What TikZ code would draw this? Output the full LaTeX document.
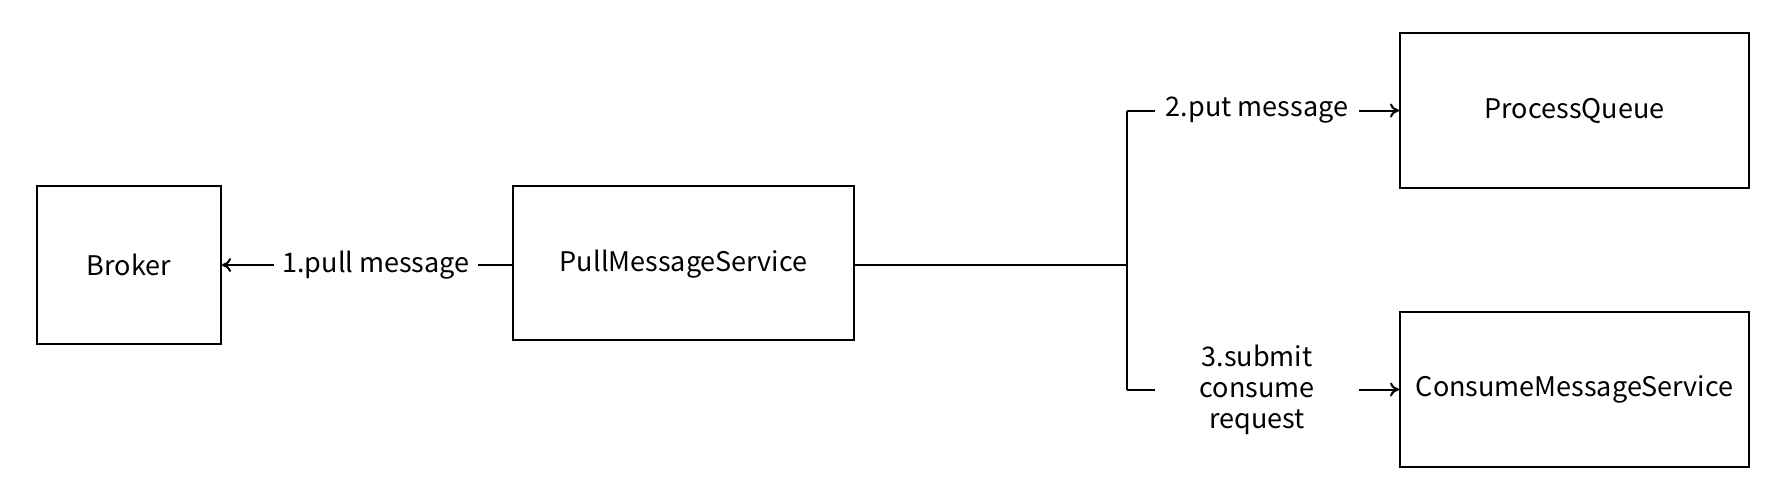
\documentclass[tikz,border=0pt]{standalone}
\usepackage{fontspec}
\setmainfont{Noto Sans CJK SC}
\usetikzlibrary{arrows.meta}
\begin{document}
\begin{tikzpicture}[x=0.5pt,y=-0.5pt,
  box/.style={draw, line width=1pt, inner sep=0pt, font=\fontsize{13.5}{15.5}\selectfont},
  lbl/.style={fill=white, inner sep=0pt, minimum width=102pt, align=center, font=\fontsize{13.5}{15.5}\selectfont},
  conn/.style={line width=1pt},
  arr/.style={conn, -{To[length=4.5pt,width=7pt]}}]
\useasboundingbox (0,0) rectangle (1767,489);
\node[box, minimum width=92pt, minimum height=79pt] (broker) at (129,265) {Broker};
\node[box, minimum width=170.5pt, minimum height=77pt, text depth=2pt] (pms) at (683.5,263) {PullMessageService};
\node[box, minimum width=174.5pt, minimum height=77.5pt] (pq) at (1574.5,110.5) {ProcessQueue};
\node[box, minimum width=174.5pt, minimum height=77.5pt] (cms) at (1574.5,389.5) {ConsumeMessageService};
\coordinate (j) at (1127,265);
\coordinate (jt) at (1127,110.5);
\coordinate (jb) at (1127,389.5);
\draw[arr] (pms.west |- j) -- (broker.east |- j);
\node[lbl] (l1) at (376,265) {1.pull message};
\draw[conn] (pms.east |- j) -- (j);
\draw[conn] (jt) -- (jb);
\draw[arr] (jt) -- (pq.west);
\node[lbl] (l2) at (1257,110.5) {2.put message};
\draw[arr] (jb) -- (cms.west);
\node[lbl] (l3) at (1257,389.5) {3.submit\\consume\\request};
\end{tikzpicture}
\end{document}
